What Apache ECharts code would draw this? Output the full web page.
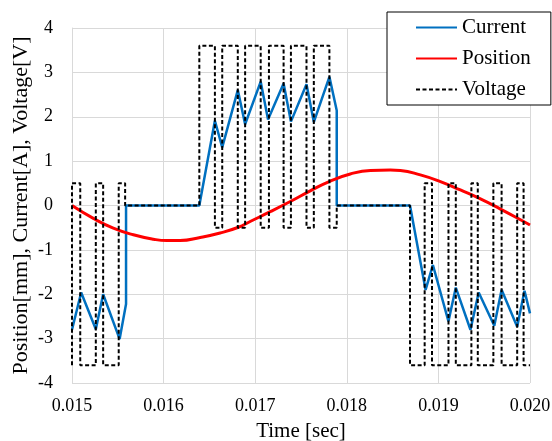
<!DOCTYPE html>
<html>
<head>
<meta charset="utf-8">
<script src="https://cdn.jsdelivr.net/npm/echarts@6/dist/echarts.min.js"></script>
<style>
  html, body { margin: 0; padding: 0; background: #fff; }
  #chart { width: 552px; height: 441px; }
</style>
</head>
<body>
<div id="chart"></div>
<script>
// 时间轴刻度
const timeTicks = [0.015, 0.016, 0.017, 0.018, 0.019, 0.020]

// Current [A]
const currentTime = [0.015, 0.0151, 0.01526, 0.01534, 0.01552, 0.01559, 0.01559, 0.01639,
  0.01656, 0.01664, 0.01681, 0.01689, 0.01706, 0.01714, 0.01731, 0.01739, 0.01756, 0.01764,
  0.01781, 0.01789, 0.01789, 0.01869, 0.01886, 0.01894, 0.01911, 0.01919, 0.01935, 0.01944,
  0.01961, 0.01969, 0.01986, 0.01994, 0.02]
const currentValue = [-2.8, -1.96, -2.79, -2.0, -3.01, -2.22, 0, 0,
  1.91, 1.31, 2.6, 1.83, 2.79, 1.94, 2.75, 1.89, 2.73, 1.88,
  2.9, 2.14, 0, 0, -1.9, -1.34, -2.61, -1.85, -2.8, -1.96,
  -2.71, -1.9, -2.73, -1.92, -2.43]

// Position [mm]
const positionTime = [0.015, 0.015233, 0.015451, 0.01567, 0.015889, 0.016035, 0.01618, 0.0164,
  0.016617, 0.016817, 0.016945, 0.017164, 0.017383, 0.017601, 0.01782, 0.018038, 0.018257,
  0.018475, 0.018585, 0.018803, 0.019022, 0.01924, 0.019459, 0.019678, 0.019896, 0.02]
const positionValue = [0, -0.29, -0.51, -0.66, -0.76, -0.79, -0.79, -0.72,
  -0.62, -0.49, -0.36, -0.14, 0.09, 0.33, 0.55, 0.71, 0.79,
  0.8, 0.79, 0.69, 0.54, 0.35, 0.15, -0.08, -0.32, -0.44]

// Voltage [V]
const voltageTime = [0.015, 0.015, 0.01509, 0.01509, 0.01526, 0.01526, 0.01534, 0.01534,
  0.01551, 0.01551, 0.01558, 0.01558,
  0.01639, 0.01639, 0.01656, 0.01656, 0.01664, 0.01664, 0.01681, 0.01681, 0.01689, 0.01689,
  0.01706, 0.01706, 0.01715, 0.01715, 0.01731, 0.01731, 0.01739, 0.01739, 0.01756, 0.01756,
  0.01764, 0.01764, 0.01781, 0.01781, 0.01789, 0.01789,
  0.01869, 0.01869, 0.01885, 0.01885, 0.01893, 0.01893, 0.01911, 0.01911, 0.01919, 0.01919,
  0.01936, 0.01936, 0.01943, 0.01943, 0.0196, 0.0196, 0.01969, 0.01969, 0.01986, 0.01986,
  0.01993, 0.01993, 0.02]
const voltageValue = [-3.6, 0.5, 0.5, -3.6, -3.6, 0.5, 0.5, -3.6,
  -3.6, 0.5, 0.5, 0,
  0, 3.6, 3.6, -0.5, -0.5, 3.6, 3.6, -0.5, -0.5, 3.6,
  3.6, -0.5, -0.5, 3.6, 3.6, -0.5, -0.5, 3.6, 3.6, -0.5,
  -0.5, 3.6, 3.6, -0.5, -0.5, 0,
  0, -3.6, -3.6, 0.5, 0.5, -3.6, -3.6, 0.5, 0.5, -3.6,
  -3.6, 0.5, 0.5, -3.6, -3.6, 0.5, 0.5, -3.6, -3.6, 0.5,
  0.5, -3.6, -3.6]

const zip = (xs, ys) => xs.map((x, i) => [x, ys[i]])

const FONT = 'Liberation Serif'
const GRID_COLOR = '#d9d9d9'

const chart = echarts.init(document.getElementById('chart'), null, { renderer: 'canvas' })

chart.setOption({
  animation: false,
  backgroundColor: '#fff',
  grid: { left: 72, right: 22, top: 28, bottom: 58, containLabel: false, outerBoundsMode: 'none' },
  legend: {
    orient: 'vertical',
    left: 387,
    top: 12,
    padding: [5, 20, 5, 28],
    itemGap: 10,
    itemWidth: 41,
    itemHeight: 14,
    backgroundColor: '#fff',
    borderColor: '#000',
    borderWidth: 1,
    itemStyle: { opacity: 0 },
    textStyle: { fontFamily: FONT, fontSize: 21, color: '#000' },
    data: ['Current', 'Position', 'Voltage']
  },
  xAxis: {
    type: 'value',
    min: timeTicks[0],
    max: timeTicks[timeTicks.length - 1],
    interval: 0.001,
    name: 'Time [sec]',
    nameLocation: 'middle',
    nameGap: 38,
    nameMoveOverlap: false,
    nameTextStyle: { fontFamily: FONT, fontSize: 21, color: '#000' },
    axisLine: { lineStyle: { color: GRID_COLOR, width: 1 } },
    axisTick: { show: false },
    axisLabel: {
      fontFamily: FONT, fontSize: 18, color: '#000', margin: 14,
      formatter: v => v.toFixed(3)
    },
    splitLine: { show: true, lineStyle: { color: GRID_COLOR, width: 1 } }
  },
  yAxis: {
    type: 'value',
    min: -4,
    max: 4,
    interval: 1,
    name: 'Position[mm], Current[A], Voltage[V]',
    nameLocation: 'middle',
    nameGap: 40,
    nameMoveOverlap: false,
    nameTextStyle: { fontFamily: FONT, fontSize: 22, color: '#000' },
    axisLine: { show: true, lineStyle: { color: GRID_COLOR, width: 1 } },
    axisTick: { show: false },
    axisLabel: { fontFamily: FONT, fontSize: 18, color: '#000', margin: 19 },
    splitLine: { show: true, lineStyle: { color: GRID_COLOR, width: 1 } }
  },
  series: [
    {
      name: 'Current',
      type: 'line',
      symbol: 'none',
      data: zip(currentTime, currentValue),
      lineStyle: { color: '#0070c0', width: 2.5 },
      itemStyle: { color: '#0070c0' }
    },
    {
      name: 'Position',
      type: 'line',
      symbol: 'none',
      smooth: true,
      data: zip(positionTime, positionValue),
      lineStyle: { color: '#ff0000', width: 3 },
      itemStyle: { color: '#ff0000' }
    },
    {
      name: 'Voltage',
      type: 'line',
      symbol: 'none',
      data: zip(voltageTime, voltageValue),
      lineStyle: { color: '#000', width: 2, type: [4, 2.5] },
      itemStyle: { color: '#000' }
    }
  ]
})
</script>
</body>
</html>
